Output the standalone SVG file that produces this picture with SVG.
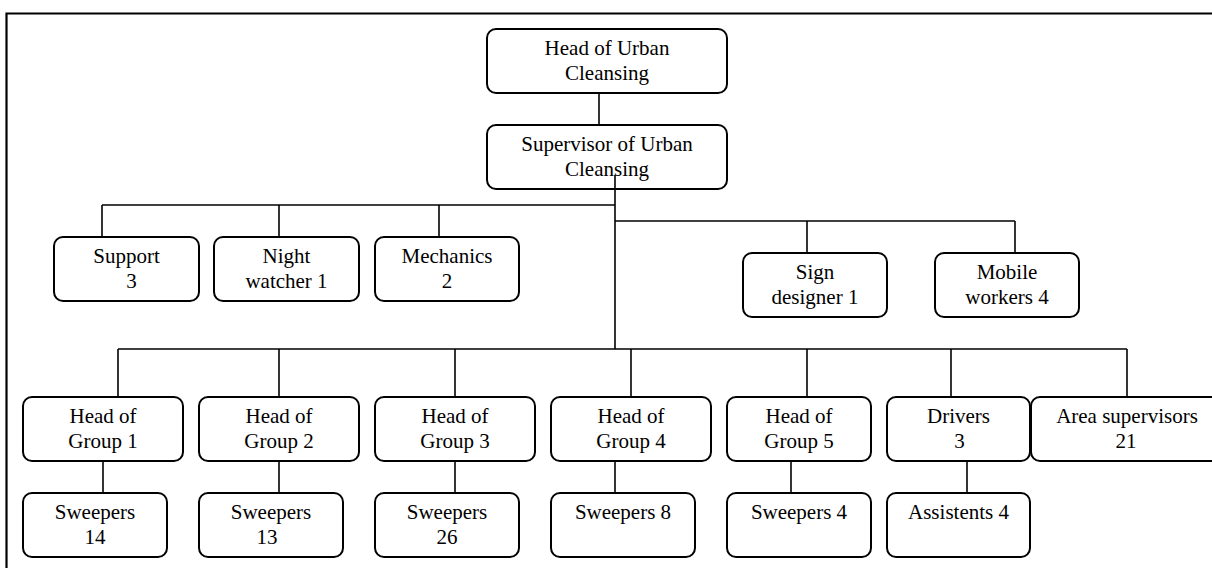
<svg xmlns="http://www.w3.org/2000/svg" width="1212" height="568" viewBox="0 0 1212 568">
  <style>
    .box { fill: #ffffff; stroke: #000000; stroke-width: 2; }
    .wire { fill: none; stroke: #000000; stroke-width: 1.6; }
    .frame { fill: none; stroke: #000000; stroke-width: 2.2; }
    text { font-family: "Liberation Serif", "Times New Roman", serif; font-size: 21px; fill: #000000; text-anchor: middle; }
  </style>
  <rect width="1212" height="568" fill="#ffffff"/>

  <!-- page frame (top and left edges) -->
  <path class="frame" d="M6.5 568 V13.5 H1212"/>

  <!-- connectors -->
  <g id="connectors">
    <line class="wire" x1="599" y1="93" x2="599" y2="125"/>
    <line class="wire" x1="615" y1="175" x2="615" y2="349"/>
    <!-- upper-left branch -->
    <line class="wire" x1="102" y1="205" x2="615" y2="205"/>
    <line class="wire" x1="102" y1="205" x2="102" y2="237"/>
    <line class="wire" x1="279" y1="205" x2="279" y2="237"/>
    <line class="wire" x1="439" y1="205" x2="439" y2="237"/>
    <!-- upper-right branch -->
    <line class="wire" x1="615" y1="221" x2="1015" y2="221"/>
    <line class="wire" x1="807" y1="221" x2="807" y2="253"/>
    <line class="wire" x1="1015" y1="221" x2="1015" y2="253"/>
    <!-- lower branch -->
    <line class="wire" x1="118" y1="349" x2="1127" y2="349"/>
    <line class="wire" x1="118" y1="349" x2="118" y2="397"/>
    <line class="wire" x1="279" y1="349" x2="279" y2="397"/>
    <line class="wire" x1="455" y1="349" x2="455" y2="397"/>
    <line class="wire" x1="631" y1="349" x2="631" y2="397"/>
    <line class="wire" x1="807" y1="349" x2="807" y2="397"/>
    <line class="wire" x1="951" y1="349" x2="951" y2="397"/>
    <line class="wire" x1="1127" y1="349" x2="1127" y2="397"/>
    <!-- group heads to their teams -->
    <line class="wire" x1="103" y1="461" x2="103" y2="493"/>
    <line class="wire" x1="279" y1="461" x2="279" y2="493"/>
    <line class="wire" x1="455" y1="461" x2="455" y2="493"/>
    <line class="wire" x1="615" y1="461" x2="615" y2="493"/>
    <line class="wire" x1="791" y1="461" x2="791" y2="493"/>
    <line class="wire" x1="967" y1="461" x2="967" y2="493"/>
  </g>

  <g id="head">
    <rect class="box" x="487" y="29" width="240" height="64" rx="9"/>
    <text x="607" y="55">Head of Urban</text>
    <text x="607" y="80">Cleansing</text>
  </g>
  <g id="supervisor">
    <rect class="box" x="487" y="125" width="240" height="64" rx="9"/>
    <text x="607" y="151">Supervisor of Urban</text>
    <text x="607" y="176">Cleansing</text>
  </g>
  <!-- the trunk line is drawn over the supervisor label -->
  <line class="wire" x1="615" y1="175" x2="615" y2="190"/>

  <g id="support">
    <rect class="box" x="54" y="237" width="145" height="64" rx="9"/>
    <text x="126.5" y="263">Support</text>
    <text x="131.5" y="288">3</text>
  </g>
  <g id="night-watcher">
    <rect class="box" x="214" y="237" width="145" height="64" rx="9"/>
    <text x="286.5" y="263">Night</text>
    <text x="286.5" y="288">watcher 1</text>
  </g>
  <g id="mechanics">
    <rect class="box" x="375" y="237" width="144" height="64" rx="9"/>
    <text x="447" y="263">Mechanics</text>
    <text x="447" y="288">2</text>
  </g>
  <g id="sign-designer">
    <rect class="box" x="743" y="253" width="144" height="64" rx="9"/>
    <text x="815" y="279">Sign</text>
    <text x="815" y="304">designer 1</text>
  </g>
  <g id="mobile-workers">
    <rect class="box" x="935" y="253" width="144" height="64" rx="9"/>
    <text x="1007" y="279">Mobile</text>
    <text x="1007" y="304">workers 4</text>
  </g>

  <g id="group1">
    <rect class="box" x="23" y="397" width="160" height="64" rx="9"/>
    <text x="103" y="423">Head of</text>
    <text x="103" y="448">Group 1</text>
  </g>
  <g id="group2">
    <rect class="box" x="199" y="397" width="160" height="64" rx="9"/>
    <text x="279" y="423">Head of</text>
    <text x="279" y="448">Group 2</text>
  </g>
  <g id="group3">
    <rect class="box" x="375" y="397" width="160" height="64" rx="9"/>
    <text x="455" y="423">Head of</text>
    <text x="455" y="448">Group 3</text>
  </g>
  <g id="group4">
    <rect class="box" x="551" y="397" width="160" height="64" rx="9"/>
    <text x="631" y="423">Head of</text>
    <text x="631" y="448">Group 4</text>
  </g>
  <g id="group5">
    <rect class="box" x="727" y="397" width="144" height="64" rx="9"/>
    <text x="799" y="423">Head of</text>
    <text x="799" y="448">Group 5</text>
  </g>
  <g id="drivers">
    <rect class="box" x="887" y="397" width="143" height="64" rx="9"/>
    <text x="958.5" y="423">Drivers</text>
    <text x="959.5" y="448">3</text>
  </g>
  <g id="area-supervisors">
    <rect class="box" x="1031" y="397" width="192" height="64" rx="9"/>
    <text x="1127" y="423">Area supervisors</text>
    <text x="1126" y="448">21</text>
  </g>

  <g id="sweepers1">
    <rect class="box" x="23" y="493" width="144" height="64" rx="9"/>
    <text x="95" y="519">Sweepers</text>
    <text x="95" y="544">14</text>
  </g>
  <g id="sweepers2">
    <rect class="box" x="199" y="493" width="144" height="64" rx="9"/>
    <text x="271" y="519">Sweepers</text>
    <text x="267" y="544">13</text>
  </g>
  <g id="sweepers3">
    <rect class="box" x="375" y="493" width="144" height="64" rx="9"/>
    <text x="447" y="519">Sweepers</text>
    <text x="447" y="544">26</text>
  </g>
  <g id="sweepers4">
    <rect class="box" x="551" y="493" width="144" height="64" rx="9"/>
    <text x="623" y="519">Sweepers 8</text>
  </g>
  <g id="sweepers5">
    <rect class="box" x="727" y="493" width="144" height="64" rx="9"/>
    <text x="799" y="519">Sweepers 4</text>
  </g>
  <g id="assistents">
    <rect class="box" x="887" y="493" width="143" height="64" rx="9"/>
    <text x="958.5" y="519">Assistents 4</text>
  </g>
</svg>
